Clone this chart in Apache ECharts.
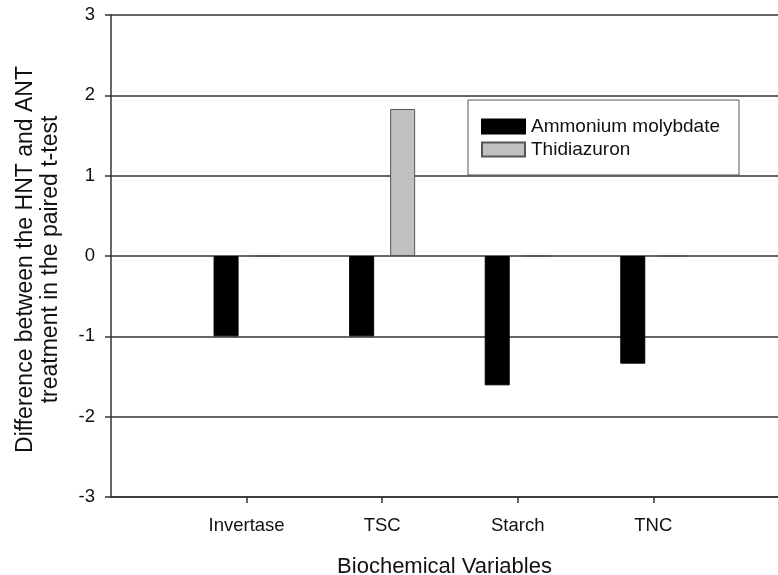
<!DOCTYPE html>
<html>
<head>
<meta charset="utf-8">
<script src="https://cdn.jsdelivr.net/npm/echarts@6/dist/echarts.min.js"></script>
<style>html,body{margin:0;padding:0;background:#fff;}#c{width:778px;height:575px;}</style>
</head>
<body>
<div id="c"></div>
<script>
const categories = ['Invertase', 'TSC', 'Starch', 'TNC'];
const ammoniumMolybdate = [-1.0, -1.0, -1.61, -1.34];
const thidiazuron = [0, 1.83, 0, 0];
const yTicks = [-3, -2, -1, 0, 1, 2, 3];

const font = '"Liberation Sans", Arial, Helvetica, sans-serif';
const positions = categories.map((c, i) => i + 1);
const chart = echarts.init(document.getElementById('c'));
chart.setOption({
  animation: false,
  backgroundColor: '#fff',
  grid: { left: 111, right: 0, top: 15, bottom: 78, containLabel: false, outerBoundsMode: 'none' },
  legend: {
    left: 468, top: 100,
    orient: 'vertical',
    padding: [17, 19, 16, 13],
    icon: 'rect',
    itemWidth: 43, itemHeight: 14, itemGap: 4,
    borderColor: '#555', borderWidth: 1,
    textStyle: { fontFamily: font, fontSize: 19, color: '#111', padding: [0, 0, 0, 1] },
    data: ['Ammonium molybdate', 'Thidiazuron']
  },
  xAxis: {
    type: 'value', min: 0, max: 4.92, interval: 1,
    name: 'Biochemical Variables', nameLocation: 'middle', nameGap: 59,
    nameTextStyle: { fontFamily: font, fontSize: 22, color: '#111' },
    axisLine: { show: true, onZero: false, lineStyle: { color: '#333', width: 1.5 } },
    axisTick: { show: true, length: 6, customValues: positions, lineStyle: { color: '#333', width: 1.5 } },
    axisLabel: { customValues: positions, margin: 19, fontFamily: font, fontSize: 18.5, color: '#111',
      formatter: v => categories[Math.round(v) - 1] || '' },
    splitLine: { show: false }
  },
  yAxis: {
    type: 'value', min: -3, max: 3, interval: 1,
    name: 'Difference between the HNT and ANT\ntreatment in the paired t-test',
    nameLocation: 'middle', nameGap: 48, nameRotate: 90,
    nameTextStyle: { fontFamily: font, fontSize: 23, color: '#111', lineHeight: 25, padding: [0, 7, 0, 0] },
    axisLine: { show: true, lineStyle: { color: '#333', width: 1.5 } },
    axisTick: { show: true, length: 6, lineStyle: { color: '#333', width: 1.5 } },
    axisLabel: { margin: 16, fontFamily: font, fontSize: 18.5, color: '#111',
      customValues: yTicks, formatter: v => String(v) },
    splitLine: { show: true, lineStyle: { color: '#333', width: 1.5 } }
  },
  series: [
    {
      name: 'Ammonium molybdate', type: 'bar', barWidth: 25, barGap: '64%',
      itemStyle: { color: '#000', borderColor: '#000', borderWidth: 1 },
      data: ammoniumMolybdate.map((v, i) => [positions[i], v])
    },
    {
      name: 'Thidiazuron', type: 'bar', barWidth: 25, barGap: '64%',
      itemStyle: { color: '#c0c0c0', borderColor: '#555', borderWidth: 1 },
      data: thidiazuron.map((v, i) => [positions[i], v])
    }
  ]
});
</script>
</body>
</html>
